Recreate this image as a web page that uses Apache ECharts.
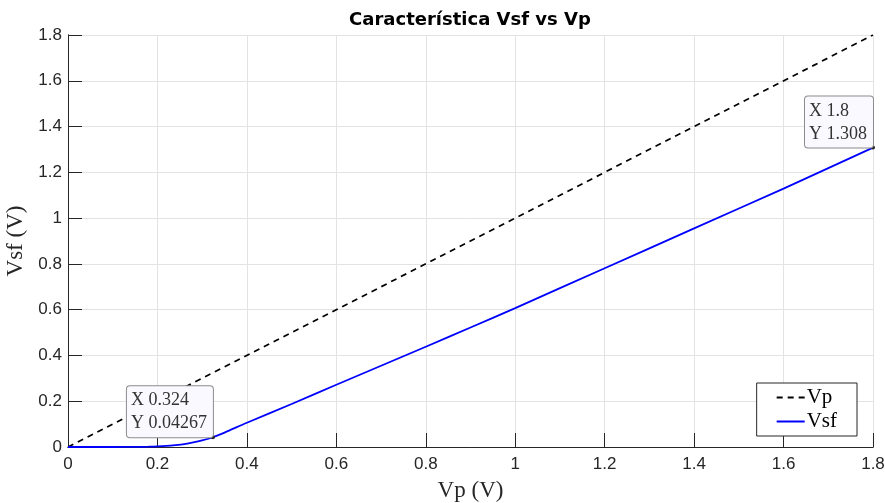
<!DOCTYPE html>
<html><head><meta charset="utf-8">
<script src="https://cdn.jsdelivr.net/npm/echarts@6/dist/echarts.min.js"></script>
<style>html,body{margin:0;padding:0;background:#fff}#c{width:885px;height:503px}</style>
</head><body><div id="c"></div>
<script>
const vpX = [0, 1.8];
const vpY = [0, 1.8];
const vsfX = [0, 0.05, 0.1, 0.15, 0.18, 0.2, 0.22, 0.24, 0.26, 0.28, 0.3, 0.324, 0.35, 0.4, 0.5, 0.6, 0.7, 0.8, 0.9, 1.0, 1.2, 1.4, 1.6, 1.8];
const vsfY = [0, 0, 0.0001, 0.0006, 0.0015, 0.0028, 0.0050, 0.0085, 0.013, 0.020, 0.029, 0.04267, 0.063, 0.106, 0.188, 0.272, 0.355, 0.438, 0.522, 0.607, 0.781, 0.955, 1.129, 1.308];
const tipA = {x: 0.324, y: 0.04267, tx: 'X 0.324', ty: 'Y 0.04267'};
const tipB = {x: 1.8, y: 1.308, tx: 'X 1.8', ty: 'Y 1.308'};
const titleText = 'Característica Vsf vs Vp';
const xName = 'Vp (V)';
const yName = 'Vsf (V)';

const axisCol = '#262626';
const gridCol = '#e3e3e3';
const tipFont = '18px "Liberation Serif"';
function textW(s){
  const c = document.createElement('canvas').getContext('2d');
  c.font = tipFont; return Math.ceil(c.measureText(s).width);
}
function tipPoint(t){
  const w = Math.max(textW(t.tx), textW(t.ty));
  return {
    coord: [t.x, t.y],
    symbol: 'circle', symbolSize: 4,
    itemStyle: {color: '#222'},
    label: {
      show: true, position: [2, 2], align: 'right', verticalAlign: 'bottom',
      formatter: '{l|' + t.tx + '}\n{l|' + t.ty + '}',
      rich: {l: {width: w, align: 'left', fontFamily: 'Liberation Serif', fontSize: 18, color: '#333', lineHeight: 23}},
      backgroundColor: '#f9f9ff', borderColor: '#8c8c8c', borderWidth: 1, borderRadius: 3,
      padding: [3, 6, 2, 4]
    }
  };
}
// axes used only to draw inward-pointing ticks (offset inside the plot, ticks pointing out to the frame)
function tickAxis(pos){
  return {
    type: 'value', min: 0, max: 1.8, interval: 0.2, position: pos, offset: -7,
    axisLine: {show: false},
    axisTick: {show: true, inside: false, length: 7, lineStyle: {color: axisCol, width: 1}},
    axisLabel: {show: false}, splitLine: {show: false}
  };
}
function frameAxis(pos){
  return {
    type: 'value', min: 0, max: 1.8, interval: 0.2, position: pos,
    axisLine: {show: true, lineStyle: {color: axisCol, width: 1}},
    axisTick: {show: false}, axisLabel: {show: false}, splitLine: {show: false}
  };
}
const chart = echarts.init(document.getElementById('c'), null, {renderer: 'canvas'});
chart.setOption({
  animation: false,
  backgroundColor: '#fff',
  title: {text: titleText, left: 465, textAlign: 'center', top: 6,
    textStyle: {fontFamily: 'DejaVu Sans', fontWeight: 'bold', fontSize: 18, color: '#000'}},
  grid: {left: 68, right: 12, top: 35, bottom: 56, containLabel: false, outerBoundsMode: 'none'},
  legend: {
    right: 28, bottom: 67, orient: 'vertical', align: 'left',
    backgroundColor: '#fff', borderColor: axisCol, borderWidth: 1, borderRadius: 0,
    padding: [4, 20, 4, 19], itemGap: 3, itemWidth: 28, itemHeight: 14,
    itemStyle: {color: 'rgba(0,0,0,0)', borderWidth: 0, opacity: 0},
    textStyle: {fontFamily: 'Liberation Serif', fontSize: 21, color: '#000', padding: [0, 0, 0, -3]},
    data: ['Vp', 'Vsf']
  },
  xAxis: [{
    type: 'value', min: 0, max: 1.8, interval: 0.2,
    name: xName, nameLocation: 'middle', nameGap: 32,
    nameTextStyle: {fontFamily: 'Liberation Serif', fontSize: 23, color: axisCol},
    axisLine: {show: true, lineStyle: {color: axisCol, width: 1}},
    axisTick: {show: false},
    axisLabel: {fontFamily: 'Liberation Sans', fontSize: 17, color: axisCol, margin: 9},
    splitLine: {show: true, lineStyle: {color: gridCol, width: 1}}
  }, frameAxis('top'), tickAxis('bottom'), tickAxis('top')],
  yAxis: [{
    type: 'value', min: 0, max: 1.8, interval: 0.2,
    name: yName, nameLocation: 'middle', nameGap: 40,
    nameTextStyle: {fontFamily: 'Liberation Serif', fontSize: 23, color: axisCol},
    axisLine: {show: true, lineStyle: {color: axisCol, width: 1}},
    axisTick: {show: false},
    axisLabel: {fontFamily: 'Liberation Sans', fontSize: 17, color: axisCol, margin: 6},
    splitLine: {show: true, lineStyle: {color: gridCol, width: 1}}
  }, frameAxis('right'), tickAxis('left'), tickAxis('right')],
  series: [{
    name: 'Vp', type: 'line', symbol: 'none', z: 3,
    data: vpX.map((x, i) => [x, vpY[i]]),
    lineStyle: {color: '#000', width: 1.7, type: [6, 5]},
    itemStyle: {color: '#000'}
  }, {
    name: 'Vsf', type: 'line', symbol: 'none', smooth: 0.3, z: 4,
    data: vsfX.map((x, i) => [x, vsfY[i]]),
    lineStyle: {color: '#0000ff', width: 1.8},
    itemStyle: {color: '#0000ff'},
    markPoint: {silent: true, data: [tipPoint(tipA), tipPoint(tipB)]}
  }]
});
</script></body></html>
